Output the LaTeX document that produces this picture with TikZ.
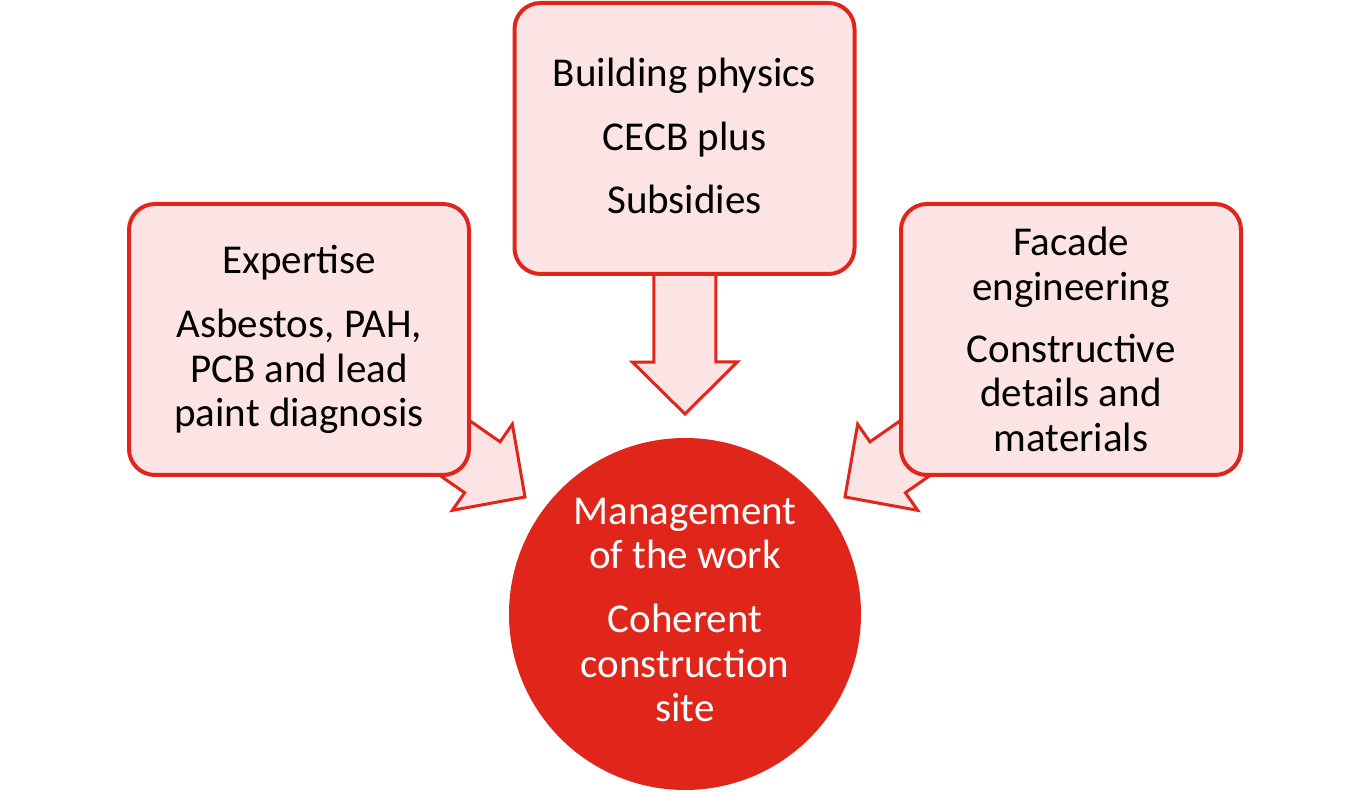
\documentclass[tikz,border=0pt]{standalone}
\usepackage{fontspec}
\setmainfont{Carlito}
\usetikzlibrary{calc,backgrounds}
\definecolor{boxred}{RGB}{224,37,27}
\definecolor{boxpink}{RGB}{252,228,228}
% block arrow from a node centre to a tip coordinate
\newcommand{\blockarrow}[2]{%
    \draw[arrowbody] let \p1=(#1.center), \p2=(#2), \n1={atan2(\y2-\y1,\x2-\x1)}, \n2={veclen(\x2-\x1,\y2-\y1)} in
        [shift={(\p2)},rotate=\n1] (0,0)--(-52,52.5)--(-52,31)--(-\n2,31)--(-\n2,-31)--(-52,-31)--(-52,-52.5)--cycle;}

\begin{document}
\begin{tikzpicture}[x=1pt,y=1pt,
        topic/.style={draw=boxred,line width=4pt,fill=boxpink,rounded corners=26pt,minimum width=340pt,minimum height=271pt,align=center,font=\fontsize{41}{44.5}\selectfont},
        goal/.style={circle,fill=boxred,minimum size=352pt,inner sep=0pt,align=center,text=white,font=\fontsize{41}{44.5}\selectfont},
        arrowbody/.style={draw=boxred,line width=3pt,fill=boxpink,line join=miter}]
    \useasboundingbox (0,0) rectangle (1370,792);

    \node[topic,text depth=5pt] (physics) at (684.5,653.5) {Building physics\\[19pt]CECB plus\\[19pt]Subsidies};
    \node[topic] (expertise) at (299,452.5) {Expertise\\[19.5pt]Asbestos, PAH,\\PCB and lead\\paint diagnosis};
    \node[topic] (facade) at (1071,452.5) {Facade\\engineering\\[17.5pt]Constructive\\details and\\materials};
    \node[goal,text depth=8pt] (site) at (685,178) {Management\\of the work\\[19.5pt]Coherent\\construction\\site};

    \coordinate (toptip) at (685,378);
    \coordinate (lefttip) at (525,295);
    \coordinate (righttip) at (845,295);

    \begin{scope}[on background layer]
        \blockarrow{physics}{toptip}
        \blockarrow{expertise}{lefttip}
        \blockarrow{facade}{righttip}
    \end{scope}
\end{tikzpicture}
\end{document}
